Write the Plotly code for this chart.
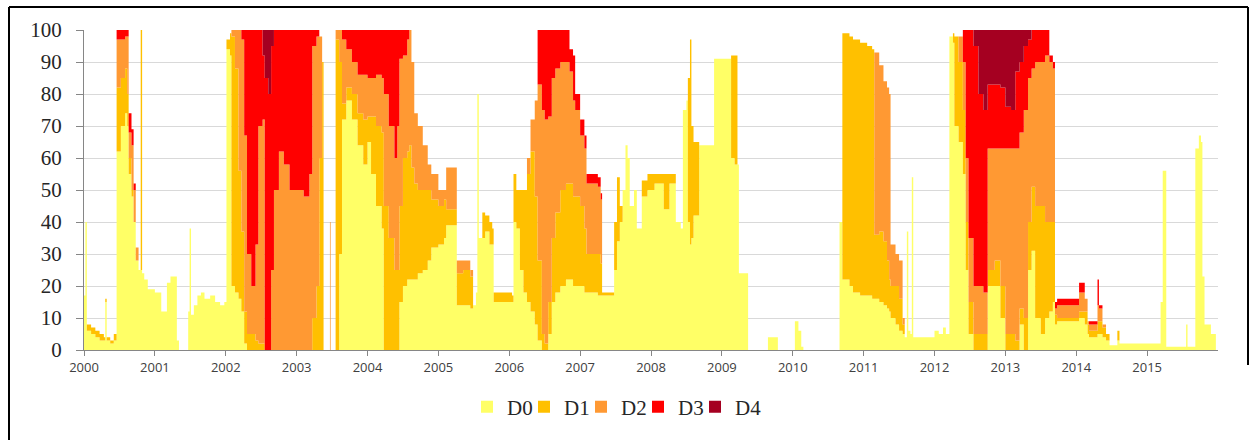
import plotly.graph_objects as go

# Time (decimal years) of each reading
t = [
    2000.00, 2000.02, 2000.04, 2000.10, 2000.16, 2000.22, 2000.28, 2000.30, 2000.32, 2000.37, 2000.42, 2000.46, 2000.52,
    2000.58, 2000.61, 2000.63, 2000.67, 2000.70, 2000.73, 2000.77, 2000.80, 2000.81, 2000.82, 2000.85, 2000.90,
    2001.00, 2001.06, 2001.09, 2001.15, 2001.17, 2001.22, 2001.28, 2001.31, 2001.34, 2001.45, 2001.47, 2001.49, 2001.51,
    2001.55, 2001.60, 2001.65, 2001.70, 2001.78, 2001.85, 2001.92, 2001.98,
    2002.01, 2002.06, 2002.08, 2002.13, 2002.18, 2002.22, 2002.26, 2002.30, 2002.36, 2002.42, 2002.46, 2002.52, 2002.55,
    2002.60, 2002.64, 2002.68, 2002.75, 2002.82, 2002.90,
    2003.00, 2003.10, 2003.18, 2003.22, 2003.28, 2003.32, 2003.36, 2003.38, 2003.46, 2003.47, 2003.48, 2003.53, 2003.55,
    2003.60, 2003.64, 2003.70, 2003.78, 2003.86, 2003.94,
    2004.00, 2004.05, 2004.12, 2004.20, 2004.23, 2004.30, 2004.38, 2004.42, 2004.45, 2004.50, 2004.56, 2004.59, 2004.62,
    2004.66, 2004.71, 2004.78, 2004.85, 2004.90,
    2005.00, 2005.08, 2005.11, 2005.24, 2005.26, 2005.35, 2005.45, 2005.49, 2005.53, 2005.55, 2005.57, 2005.62, 2005.66,
    2005.72, 2005.76, 2005.78, 2005.95,
    2006.04, 2006.06, 2006.10, 2006.15, 2006.20, 2006.25, 2006.30, 2006.36, 2006.40, 2006.46, 2006.50, 2006.55, 2006.60,
    2006.65, 2006.72, 2006.80, 2006.85, 2006.90, 2006.93,
    2007.00, 2007.06, 2007.09, 2007.25, 2007.29, 2007.31, 2007.45, 2007.48, 2007.52, 2007.56, 2007.60, 2007.64, 2007.67,
    2007.70, 2007.76, 2007.80, 2007.85, 2007.87, 2007.95,
    2008.05, 2008.15, 2008.18, 2008.24, 2008.26, 2008.32, 2008.35, 2008.42, 2008.45, 2008.50, 2008.52, 2008.55, 2008.57,
    2008.60, 2008.66, 2008.68, 2008.86, 2008.89,
    2009.10, 2009.13, 2009.18, 2009.22, 2009.24, 2009.35, 2009.37, 2009.63, 2009.65, 2009.77, 2009.79,
    2010.01, 2010.03, 2010.08, 2010.12, 2010.15, 2010.64, 2010.66, 2010.70, 2010.80, 2010.85, 2010.95,
    2011.05, 2011.12, 2011.15, 2011.22, 2011.28, 2011.33, 2011.36, 2011.38, 2011.45, 2011.50, 2011.55, 2011.58, 2011.61,
    2011.63, 2011.66, 2011.68, 2011.70, 2011.80, 2011.90,
    2012.00, 2012.06, 2012.12, 2012.16, 2012.19, 2012.21, 2012.26, 2012.28, 2012.34, 2012.40, 2012.44, 2012.48, 2012.55,
    2012.62, 2012.69, 2012.75, 2012.85, 2012.93,
    2013.00, 2013.08, 2013.14, 2013.20, 2013.26, 2013.32, 2013.37, 2013.42, 2013.50, 2013.56, 2013.62, 2013.67, 2013.70,
    2013.73,
    2014.02, 2014.04, 2014.10, 2014.12, 2014.16, 2014.18, 2014.28, 2014.30, 2014.32, 2014.37, 2014.42, 2014.47, 2014.54,
    2014.58, 2014.61, 2014.70,
    2015.15, 2015.19, 2015.22, 2015.25, 2015.27, 2015.53, 2015.55, 2015.57, 2015.64, 2015.68, 2015.73, 2015.76, 2015.78,
    2015.81, 2015.90, 2015.97,
]

# Percent of area in each category (D0 .. D4), stacked
d0 = [
    17, 40, 6, 5, 4, 3, 3, 15, 3, 2, 3, 62, 70, 74, 70, 55, 48, 40, 28, 25, 25, 25, 24, 22, 19,
    18, 18, 12, 12, 21, 23, 23, 3, 0, 0, 12, 38, 11, 14, 17, 18, 16, 17, 15, 14, 15,
    94, 92, 20, 18, 16, 12, 2, 0, 0, 0, 0, 0, 0, 0, 0, 0, 0, 0, 0,
    0, 0, 0, 0, 0, 0, 0, 0, 0, 0, 0, 0, 0, 30, 72, 78, 72, 64, 58,
    65, 55, 45, 38, 0, 0, 0, 0, 15, 20, 22, 22, 22, 22, 24, 25, 28, 32,
    33, 35, 39, 39, 14, 14, 13, 14, 18, 80, 35, 35, 37, 33, 33, 15, 15,
    15, 40, 38, 25, 18, 15, 12, 8, 3, 0, 0, 5, 15, 18, 20, 22, 22, 20, 20,
    20, 18, 18, 17, 17, 17, 17, 25, 34, 40, 50, 64, 60, 45, 50, 38, 38, 48, 50,
    52, 52, 44, 44, 52, 52, 40, 38, 75, 78, 40, 33, 35, 42, 42, 64, 64, 91,
    91, 60, 58, 58, 24, 24, 0, 0, 4, 4, 0,
    0, 9, 6, 1, 0, 0, 40, 22, 20, 18, 17,
    17, 16, 16, 15, 14, 13, 12, 10, 8, 6, 5, 4, 37, 6, 5, 54, 4, 4, 4,
    6, 5, 7, 5, 5, 98, 96, 70, 65, 55, 25, 5, 0, 0, 0, 20, 20, 10,
    0, 0, 0, 8, 0, 25, 31, 10, 5, 10, 12, 15, 8, 9,
    9, 10, 10, 8, 5, 4, 4, 5, 5, 4, 3, 1.5, 1.5, 3, 2, 2,
    2, 15, 56, 56, 1, 1, 8, 1, 1, 63, 67, 65, 23, 8, 5, 4,
]
d1 = [
    0, 0, 2, 2, 2, 2, 1, 1, 1, 1, 2, 20, 15, 14, 10, 5, 2, 0, 0, 0, 75, 75, 0, 0, 0,
    0, 0, 0, 0, 0, 0, 0, 0, 0, 0, 0, 0, 0, 0, 0, 0, 0, 0, 0, 0, 0,
    3, 7, 78, 70, 40, 25, 10, 5, 5, 3, 2, 2, 0, 0, 0, 0, 0, 0, 0,
    0, 0, 0, 10, 20, 60, 90, 0, 0, 0, 0, 0, 97, 60, 5, 4, 8, 10, 14,
    8, 18, 25, 30, 45, 35, 25, 25, 30, 40, 40, 42, 35, 30, 26, 25, 22, 15,
    12, 12, 5, 5, 10, 11, 10, 0, 0, 0, 0, 8, 5, 7, 5, 3, 3,
    2, 15, 12, 25, 32, 40, 50, 40, 25, 5, 2, 10, 20, 25, 30, 30, 30, 28, 28,
    25, 20, 12, 13, 10, 1, 1, 15, 20, 5, 0, 0, 0, 0, 0, 0, 0, 5, 5,
    3, 3, 11, 11, 3, 3, 0, 0, 0, 0, 45, 64, 35, 23, 23, 0, 0, 0,
    0, 32, 34, 0, 0, 0, 0, 0, 0, 0, 0,
    0, 0, 0, 0, 0, 0, 0, 77, 78, 79, 79,
    78, 78, 20, 22, 20, 15, 10, 10, 12, 10, 3, 0, 0, 0, 0, 0, 0, 0, 0,
    0, 0, 0, 0, 0, 0, 3, 28, 25, 20, 15, 10, 5, 5, 5, 5, 8, 10,
    5, 5, 3, 5, 10, 15, 20, 35, 40, 30, 28, 25, 3, 1,
    1, 2, 2, 4, 3, 2, 2, 4, 4, 3, 2, 0, 0, 3, 0, 0,
    0, 0, 0, 0, 0, 0, 0, 0, 0, 0, 0, 0, 0, 0, 0, 0,
]
d2 = [
    0, 0, 0, 0, 0, 0, 0, 0, 0, 0, 0, 15, 12, 10, 18, 8, 14, 10, 4, 0, 0, 0, 0, 0, 0,
    0, 0, 0, 0, 0, 0, 0, 0, 0, 0, 0, 0, 0, 0, 0, 0, 0, 0, 0, 0, 0,
    0, 0, 2, 12, 44, 60, 55, 25, 15, 30, 68, 70, 0, 0, 25, 50, 62, 58, 50,
    50, 48, 55, 85, 78, 38, 0, 0, 0, 40, 0, 0, 3, 10, 20, 12, 10, 12, 14,
    12, 12, 16, 17, 35, 35, 35, 45, 46, 32, 35, 36, 33, 22, 20, 14, 8, 8,
    5, 3, 13, 13, 4, 3, 2, 0, 0, 0, 0, 0, 0, 0, 0, 0, 0,
    0, 0, 0, 0, 0, 5, 10, 30, 55, 70, 70, 58, 50, 45, 40, 38, 35, 30, 27,
    22, 25, 22, 21, 20, 0, 0, 0, 0, 0, 0, 0, 0, 0, 0, 0, 0, 0, 0,
    0, 0, 0, 0, 0, 0, 0, 0, 0, 0, 0, 0, 0, 0, 0, 0, 0, 0,
    0, 0, 0, 0, 0, 0, 0, 0, 0, 0, 0,
    0, 0, 0, 0, 0, 0, 0, 0, 0, 0, 0,
    0, 0, 57, 52, 50, 54, 58, 13, 10, 12, 2, 0, 0, 0, 0, 0, 0, 0, 0,
    0, 0, 0, 0, 0, 0, 0, 0, 8, 15, 20, 20, 15, 15, 13, 38, 35, 43,
    58, 58, 60, 55, 65, 45, 37, 45, 45, 52, 50, 48, 2, 4,
    4, 6, 6, 4, 1, 2, 2, 5, 4, 1, 0, 0, 0, 0, 0, 0,
    0, 0, 0, 0, 0, 0, 0, 0, 0, 0, 0, 0, 0, 0, 0, 0,
]
d3 = [
    0, 0, 0, 0, 0, 0, 0, 0, 0, 0, 0, 3, 3, 2, 2, 6, 5, 2, 0, 0, 0, 0, 0, 0, 0,
    0, 0, 0, 0, 0, 0, 0, 0, 0, 0, 0, 0, 0, 0, 0, 0, 0, 0, 0, 0, 0,
    0, 0, 0, 0, 0, 3, 33, 70, 80, 67, 30, 20, 85, 80, 70, 50, 38, 42, 50,
    50, 52, 45, 5, 2, 0, 0, 0, 0, 0, 0, 0, 0, 0, 3, 6, 10, 14, 14,
    15, 15, 14, 15, 20, 30, 40, 30, 9, 8, 3, 0, 0, 0, 0, 0, 0, 0,
    0, 0, 0, 0, 0, 0, 0, 0, 0, 0, 0, 0, 0, 0, 0, 0, 0,
    0, 0, 0, 0, 0, 0, 0, 0, 17, 25, 28, 27, 15, 12, 10, 10, 7, 14, 5,
    5, 4, 3, 3, 2, 0, 0, 0, 0, 0, 0, 0, 0, 0, 0, 0, 0, 0, 0,
    0, 0, 0, 0, 0, 0, 0, 0, 0, 0, 0, 0, 0, 0, 0, 0, 0, 0,
    0, 0, 0, 0, 0, 0, 0, 0, 0, 0, 0,
    0, 0, 0, 0, 0, 0, 0, 0, 0, 0, 0,
    0, 0, 0, 0, 0, 0, 0, 0, 0, 0, 0, 0, 0, 0, 0, 0, 0, 0, 0,
    0, 0, 0, 0, 0, 0, 0, 0, 0, 10, 40, 65, 75, 60, 57, 20, 20, 19,
    13, 12, 24, 22, 20, 12, 12, 10, 10, 8, 2, 2, 2, 2,
    2, 3, 3, 0, 0, 1, 1, 8, 1, 0, 0, 0, 0, 0, 0, 0,
    0, 0, 0, 0, 0, 0, 0, 0, 0, 0, 0, 0, 0, 0, 0, 0,
]
d4 = [
    0, 0, 0, 0, 0, 0, 0, 0, 0, 0, 0, 0, 0, 0, 0, 0, 0, 0, 0, 0, 0, 0, 0, 0, 0,
    0, 0, 0, 0, 0, 0, 0, 0, 0, 0, 0, 0, 0, 0, 0, 0, 0, 0, 0, 0, 0,
    0, 0, 0, 0, 0, 0, 0, 0, 0, 0, 0, 8, 15, 20, 5, 0, 0, 0, 0,
    0, 0, 0, 0, 0, 0, 0, 0, 0, 0, 0, 0, 0, 0, 0, 0, 0, 0, 0,
    0, 0, 0, 0, 0, 0, 0, 0, 0, 0, 0, 0, 0, 0, 0, 0, 0, 0,
    0, 0, 0, 0, 0, 0, 0, 0, 0, 0, 0, 0, 0, 0, 0, 0, 0,
    0, 0, 0, 0, 0, 0, 0, 0, 0, 0, 0, 0, 0, 0, 0, 0, 0, 0, 0,
    0, 0, 0, 0, 0, 0, 0, 0, 0, 0, 0, 0, 0, 0, 0, 0, 0, 0, 0,
    0, 0, 0, 0, 0, 0, 0, 0, 0, 0, 0, 0, 0, 0, 0, 0, 0, 0,
    0, 0, 0, 0, 0, 0, 0, 0, 0, 0, 0,
    0, 0, 0, 0, 0, 0, 0, 0, 0, 0, 0,
    0, 0, 0, 0, 0, 0, 0, 0, 0, 0, 0, 0, 0, 0, 0, 0, 0, 0, 0,
    0, 0, 0, 0, 0, 0, 0, 0, 0, 0, 0, 0, 5, 20, 25, 17, 17, 18,
    24, 25, 13, 10, 5, 3, 0, 0, 0, 0, 0, 0, 0, 0,
    0, 0, 0, 0, 0, 0, 0, 0, 0, 0, 0, 0, 0, 0, 0, 0,
    0, 0, 0, 0, 0, 0, 0, 0, 0, 0, 0, 0, 0, 0, 0, 0,
]

names = ["D0", "D1", "D2", "D3", "D4"]
colors = ["#FFFF66", "#FFC000", "#FF9933", "#FF0000", "#A50021"]
years = list(range(2000, 2016))

fig = go.Figure()
for name, vals, col in zip(names, [d0, d1, d2, d3, d4], colors):
    fig.add_trace(go.Scatter(
        x=t, y=vals, stackgroup="one", mode="lines",
        line=dict(width=0, color=col, shape="hv"), fillcolor=col,
        name=name, showlegend=False, hoverinfo="skip",
    ))

L, R, T, B = 84, 37, 30, 90
W, H = 1255, 440
pw, ph = W - L - R, H - T - B

def px(x):
    return (x - L) / pw

def py(y):
    return (H - B - y) / ph

legend_font = dict(family="Liberation Serif", size=21, color="#262626")
STEP = 57
LEG_X0 = 467

legend_layouts = {}
for i, (name, col) in enumerate(zip(names, colors)):
    key = "legend" if i == 0 else f"legend{i + 1}"
    fig.add_trace(go.Scatter(
        x=[None], y=[None], mode="markers", name=name, legend=key,
        marker=dict(symbol="square", size=12, color=col),
    ))
    legend_layouts[key] = dict(
        orientation="h", x=px(LEG_X0 + i * STEP), xanchor="left",
        y=py(407), yanchor="middle", font=legend_font, bgcolor="rgba(0,0,0,0)",
    )

fig.update_layout(
    width=W, height=H,
    margin=dict(l=L, r=R, t=T, b=B),
    paper_bgcolor="white", plot_bgcolor="white",
    showlegend=True,
    **legend_layouts,
    xaxis=dict(
        range=[2000, 2016], tickvals=years, ticktext=[str(y) for y in years],
        showgrid=False, zeroline=False,
        showline=True, linecolor="#868686", linewidth=1,
        ticks="outside", ticklen=5, tickcolor="#868686",
        tickfont=dict(family="Open Sans", size=13, color="#404040"),
    ),
    yaxis=dict(
        range=[0, 100], dtick=10, tick0=0,
        showgrid=True, gridcolor="#D9D9D9", gridwidth=1, zeroline=False,
        showline=True, linecolor="#868686", linewidth=1,
        ticks="outside", ticklen=7, tickcolor="#868686",
        ticklabelstandoff=10,
        tickfont=dict(family="Liberation Serif", size=21, color="#262626"),
    ),
    shapes=[
        dict(type="line", xref="paper", yref="paper", x0=px(9), x1=px(9), y0=py(7), y1=py(440),
             line=dict(color="black", width=2)),
        dict(type="line", xref="paper", yref="paper", x0=px(9), x1=px(1248), y0=py(7), y1=py(7),
             line=dict(color="black", width=2)),
        dict(type="line", xref="paper", yref="paper", x0=px(1248), x1=px(1248), y0=py(7), y1=py(365),
             line=dict(color="black", width=2)),
    ],
)

fig.write_html("out.html")
